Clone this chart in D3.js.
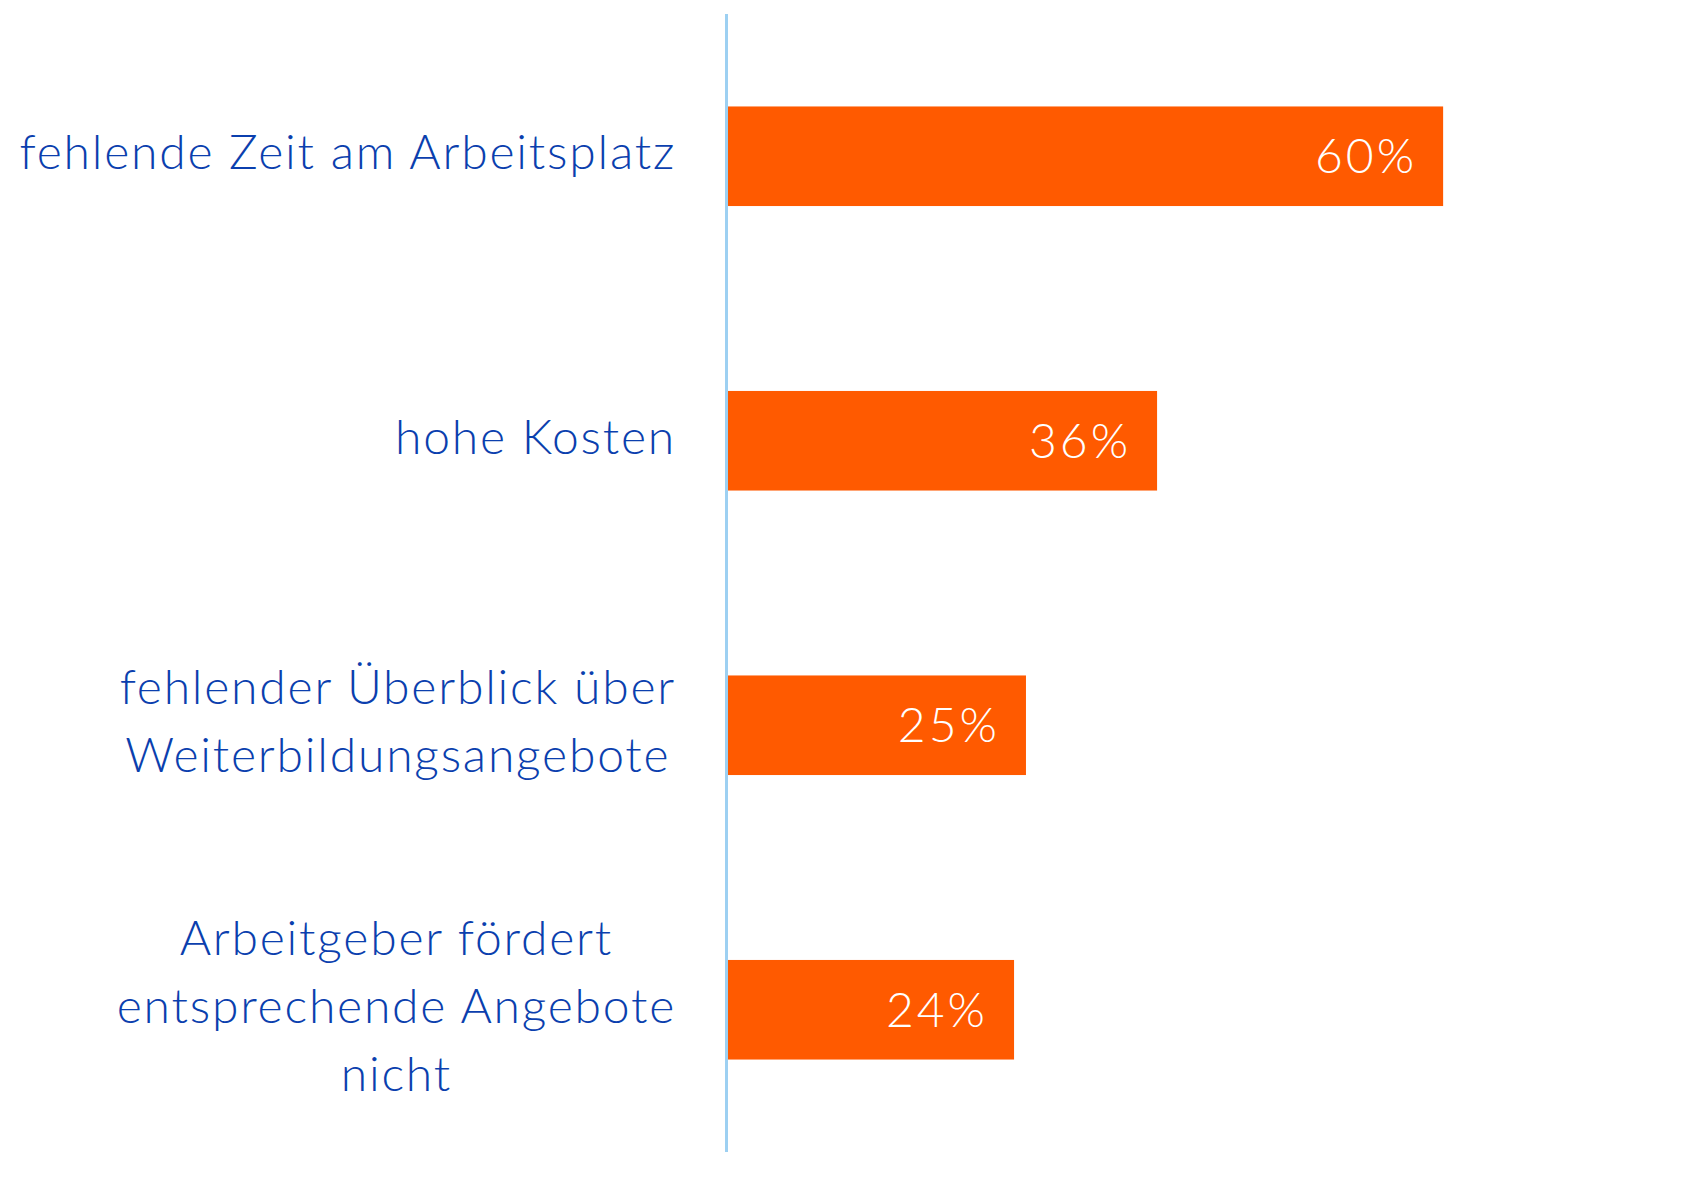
<!DOCTYPE html>
<html>
<head>
<meta charset="utf-8">
<script src="https://cdn.jsdelivr.net/npm/d3@7"></script>
<style>
  html, body { margin: 0; padding: 0; background: #ffffff; }
  svg { display: block; }
</style>
</head>
<body>
<svg id="chart" width="1685" height="1187"></svg>
<script>
const categories = [
  "fehlende Zeit am Arbeitsplatz",
  "hohe Kosten",
  "fehlender Überblick über Weiterbildungsangebote",
  "Arbeitgeber fördert entsprechende Angebote nicht"
];
const labelLines = [
  ["fehlende Zeit am Arbeitsplatz"],
  ["hohe Kosten"],
  ["fehlender Überblick über", "Weiterbildungsangebote"],
  ["Arbeitgeber fördert", "entsprechende Angebote", "nicht"]
];
const values = [60, 36, 25, 24];
const valueLabels = ["60%", "36%", "25%", "24%"];

const W = 1685, H = 1187;
const svg = d3.select("#chart");
const fontFamily = "Lato, 'Open Sans', sans-serif";
const textColor = "#0b3fae";
const barColor = "#ff5a00";
const axisColor = "#9dd0f2";

const x = d3.scaleLinear().domain([0, 80]).range([728, 1681.5]);
const y = d3.scaleBand().domain(categories).range([14, 1152])
  .paddingInner(0.65).paddingOuter(0.325);

// bars
svg.append("g").selectAll("rect").data(values).join("rect")
  .attr("x", x(0))
  .attr("y", (d, i) => y(categories[i]))
  .attr("width", d => x(d) - x(0))
  .attr("height", y.bandwidth())
  .attr("fill", barColor);

// axis line
const axisG = svg.append("g").attr("transform", `translate(${x(0) - 1.5},0)`)
  .call(d3.axisLeft(y).tickSize(0).tickFormat(""));
axisG.select(".domain").attr("stroke", axisColor).attr("stroke-width", 3)
  .attr("d", `M0,14V1152`);

// value labels
svg.append("g").selectAll("text").data(values).join("text")
  .attr("x", d => x(d) - 26)
  .attr("y", (d, i) => y(categories[i]) + y.bandwidth() / 2)
  .attr("dy", "0.35em")
  .attr("text-anchor", "end")
  .attr("fill", "#ffffff")
  .attr("font-family", fontFamily)
  .attr("font-weight", 300)
  .attr("font-size", 48)
  .attr("letter-spacing", 3)
  .text((d, i) => valueLabels[i]);

// category labels
const rightEdge = 676;
const lineH = 68;
const labG = svg.append("g");
categories.forEach((c, i) => {
  const lines = labelLines[i];
  const cy = y(c) + y.bandwidth() / 2;
  const t = labG.append("text")
    .attr("fill", textColor)
    .attr("font-family", fontFamily)
    .attr("font-weight", 300)
    .attr("font-size", 48)
    .attr("letter-spacing", 1.8)
    .attr("text-anchor", "middle");
  const spans = lines.map((ln, j) => t.append("tspan")
    .attr("y", cy + (j - (lines.length - 1) / 2) * lineH)
    .attr("dy", "0.27em")
    .text(ln));
  const maxW = d3.max(spans, s => s.node().getComputedTextLength());
  spans.forEach(s => s.attr("x", rightEdge - maxW / 2));
});
</script>
</body>
</html>
